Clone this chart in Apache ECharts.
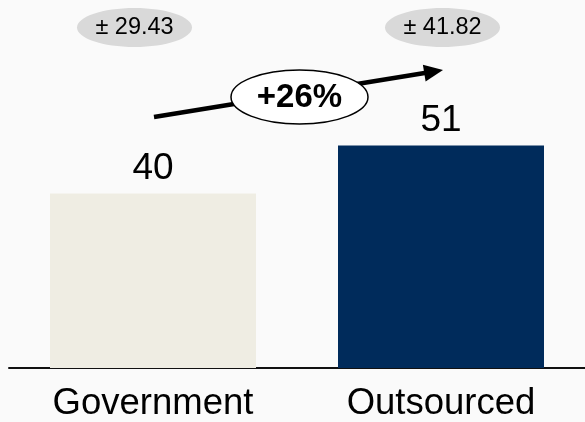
<!DOCTYPE html>
<html>
<head>
<meta charset="utf-8">
<script src="https://cdn.jsdelivr.net/npm/echarts@6/dist/echarts.min.js"></script>
<style>
  html, body { margin: 0; padding: 0; background: #fafafa; }
  #chart { width: 585px; height: 422px; }
</style>
</head>
<body>
<div id="chart"></div>
<script>
// Average cost by delivery model
const categories = ['Government', 'Outsourced'];
const values = [40, 51];
const margins = [29.43, 41.82];
const changeLabel = '+26%';
const barColors = ['#efede3', '#002b5b'];

const FONT = '"Liberation Sans", Arial, sans-serif';

const chart = echarts.init(document.getElementById('chart'), null, { renderer: 'canvas' });

const option = {
  backgroundColor: '#fafafa',
  animation: false,
  grid: { left: 9, width: 580, top: 19, bottom: 51 },
  xAxis: {
    type: 'category',
    data: categories,
    axisTick: { show: false },
    axisLine: { lineStyle: { color: '#111', width: 2 } },
    axisLabel: { color: '#000', fontFamily: FONT, fontSize: 36.5, margin: 17 }
  },
  yAxis: { type: 'value', min: 0, max: 80, show: false, splitLine: { show: false } },
  series: [{
    type: 'bar',
    barWidth: 206,
    data: values.map((v, i) => ({ value: v, itemStyle: { color: barColors[i] } })),
    label: {
      show: true,
      position: 'top',
      distance: 6,
      color: '#000',
      fontFamily: FONT,
      fontSize: 37
    }
  }]
};
chart.setOption(option);

// Annotations: margin-of-error badges and the change arrow
function badge(cx, cy, text) {
  return [
    { type: 'ellipse', shape: { cx: cx, cy: cy, rx: 57.5, ry: 19.5 }, style: { fill: '#d9d9d9' }, z: 10 },
    { type: 'text', x: cx, y: cy + 0.5, style: { text: text, fill: '#000', font: '23.5px ' + FONT, align: 'center', verticalAlign: 'middle' }, z: 11 }
  ];
}

const x1 = 154, y1 = 117, x2 = 443, y2 = 70;
const ang = Math.atan2(y2 - y1, x2 - x1);
const headLen = 19, headHalf = 8.5;
const bx = x2 - headLen * Math.cos(ang), by = y2 - headLen * Math.sin(ang);
const px = -Math.sin(ang), py = Math.cos(ang);

chart.setOption({
  graphic: [
    ...badge(134.5, 27.5, '± ' + margins[0].toFixed(2)),
    ...badge(442.5, 27.5, '± ' + margins[1].toFixed(2)),
    { type: 'line', shape: { x1: x1, y1: y1, x2: bx + 2 * Math.cos(ang), y2: by + 2 * Math.sin(ang) }, style: { stroke: '#000', lineWidth: 4.5 }, z: 10 },
    { type: 'polygon', shape: { points: [[x2, y2], [bx + px * headHalf, by + py * headHalf], [bx - px * headHalf, by - py * headHalf]] }, style: { fill: '#000' }, z: 10 },
    { type: 'ellipse', shape: { cx: 299.5, cy: 97, rx: 68.5, ry: 27 }, style: { fill: '#fff', stroke: '#000', lineWidth: 1.5 }, z: 12 },
    { type: 'text', x: 299.5, y: 98, style: { text: changeLabel, fill: '#000', font: 'bold 33px ' + FONT, align: 'center', verticalAlign: 'middle' }, z: 13 }
  ]
});
</script>
</body>
</html>
